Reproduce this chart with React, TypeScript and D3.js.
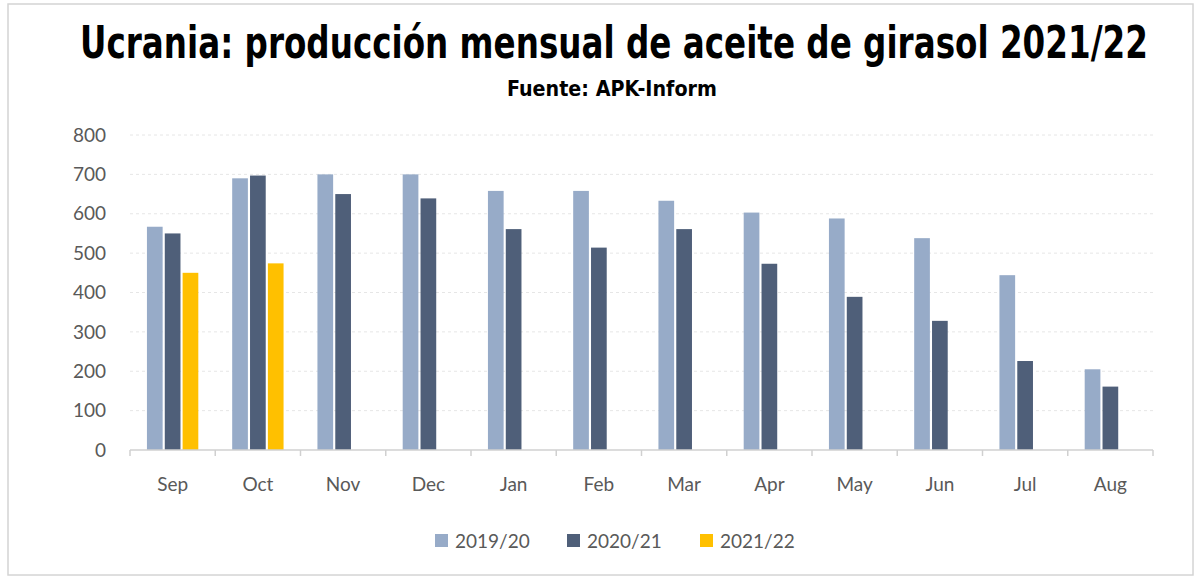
import React, { useEffect, useRef } from "react";
import * as d3 from "d3";

// data
const months = ["Sep", "Oct", "Nov", "Dec", "Jan", "Feb", "Mar", "Apr", "May", "Jun", "Jul", "Aug"];
const seriesNames = ["2019/20", "2020/21", "2021/22"];
const values1920 = [567, 690, 700, 700, 658, 658, 633, 603, 588, 538, 444, 205];
const values2021 = [550, 697, 650, 639, 561, 514, 561, 473, 389, 328, 226, 161];
const values2122 = [450, 474, null, null, null, null, null, null, null, null, null, null];
const yTicks = [0, 100, 200, 300, 400, 500, 600, 700, 800];
const colors = ["#97abc8", "#4f5f79", "#ffc000"];

export default function App() {
  const ref = useRef<SVGSVGElement>(null);

  useEffect(() => {
    const width = 1198;
    const height = 576;
    const margin = { top: 135, right: 45, bottom: 126, left: 130 };
    const svg = d3.select(ref.current);
    svg.selectAll("*").remove();

    const font = "Lato, 'Open Sans', sans-serif";
    const titleFont = "'DejaVu Sans Condensed', 'Liberation Sans Narrow', sans-serif";

    // frame
    svg
      .append("rect")
      .attr("x", 8)
      .attr("y", 4)
      .attr("width", width - 13)
      .attr("height", height - 5)
      .attr("fill", "white")
      .attr("stroke", "#d4d4d4")
      .attr("stroke-width", 1.5);

    // squeeze a bold text into a given width
    const fitText = (txt: string, x0: number, base: number, w: number, size: number) => {
      const g = svg.append("g");
      const t = g
        .append("text")
        .attr("x", 0)
        .attr("y", 0)
        .style("font-family", titleFont)
        .style("font-weight", "bold")
        .style("font-size", size + "px")
        .attr("fill", "#000")
        .text(txt);
      const len = (t.node() as SVGTextElement).getComputedTextLength() || w;
      g.attr("transform", `translate(${x0},${base}) scale(${w / len},1)`);
    };

    fitText("Ucrania: producción mensual de aceite de girasol 2021/22", 80, 58, 1068, 44);
    fitText("Fuente: APK-Inform", 507, 96, 210, 22);

    const x = d3
      .scaleBand()
      .domain(months)
      .range([margin.left, width - margin.right])
      .paddingInner(0)
      .paddingOuter(0);

    const y = d3
      .scaleLinear()
      .domain([0, 800])
      .range([height - margin.bottom, margin.top]);

    // grid
    svg
      .append("g")
      .selectAll("line")
      .data(yTicks.filter((d) => d > 0))
      .join("line")
      .attr("x1", margin.left)
      .attr("x2", width - margin.right)
      .attr("y1", (d) => y(d))
      .attr("y2", (d) => y(d))
      .attr("stroke", "#e6e6e6")
      .attr("stroke-width", 1)
      .attr("stroke-dasharray", "3,3");

    // y labels
    svg
      .append("g")
      .selectAll("text")
      .data(yTicks)
      .join("text")
      .attr("x", 106)
      .attr("y", (d) => y(d))
      .attr("dy", "0.35em")
      .attr("text-anchor", "end")
      .style("font-family", font)
      .style("font-size", "19px")
      .attr("fill", "#595959")
      .text((d) => d);

    // bars
    const xInner = d3
      .scaleBand()
      .domain(seriesNames)
      .range([0, x.bandwidth()])
      .paddingInner(0.12)
      .paddingOuter(0.95);

    const allSeries = [values1920, values2021, values2122];
    allSeries.forEach((vals, si) => {
      svg
        .append("g")
        .selectAll("rect")
        .data(vals.map((v, i) => ({ month: months[i], value: v })).filter((d) => d.value != null))
        .join("rect")
        .attr("x", (d) => x(d.month)! + xInner(seriesNames[si])!)
        .attr("y", (d) => y(d.value as number))
        .attr("width", xInner.bandwidth())
        .attr("height", (d) => y(0) - y(d.value as number))
        .attr("fill", colors[si]);
    });

    // x axis
    const xAxis = svg.append("g").attr("transform", `translate(0,${y(0)})`);
    xAxis
      .append("line")
      .attr("x1", margin.left)
      .attr("x2", width - margin.right)
      .attr("stroke", "#d0d0d0")
      .attr("stroke-width", 1.5);
    const bounds = months.map((m) => x(m)!).concat([width - margin.right]);
    xAxis
      .selectAll(".tick")
      .data(bounds)
      .join("line")
      .attr("class", "tick")
      .attr("x1", (d) => d)
      .attr("x2", (d) => d)
      .attr("y1", 0)
      .attr("y2", 6)
      .attr("stroke", "#d0d0d0")
      .attr("stroke-width", 1.5);
    xAxis
      .selectAll(".lbl")
      .data(months)
      .join("text")
      .attr("class", "lbl")
      .attr("x", (d) => x(d)! + x.bandwidth() / 2)
      .attr("y", 34)
      .attr("dy", "0.35em")
      .attr("text-anchor", "middle")
      .style("font-family", font)
      .style("font-size", "19px")
      .attr("fill", "#595959")
      .text((d) => d);

    // legend
    const legendX = [435, 567, 700];
    seriesNames.forEach((name, i) => {
      const g = svg.append("g").attr("transform", `translate(${legendX[i]},541)`);
      g.append("rect")
        .attr("x", 0)
        .attr("y", -7)
        .attr("width", 13)
        .attr("height", 13)
        .attr("fill", colors[i]);
      g.append("text")
        .attr("x", 20)
        .attr("y", 0)
        .attr("dy", "0.35em")
        .style("font-family", font)
        .style("font-size", "19px")
        .attr("fill", "#595959")
        .text(name);
    });
  }, []);

  return (
    <svg
      ref={ref}
      width={1198}
      height={576}
      style={{ position: "absolute", left: 0, top: 0, background: "white" }}
    />
  );
}
